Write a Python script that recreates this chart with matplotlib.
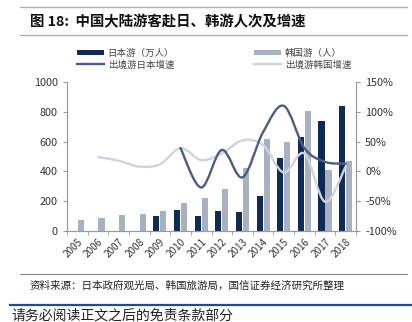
"""图 18：中国大陆游客赴日、韩游人次及增速"""

import matplotlib

matplotlib.use("Agg")

import matplotlib.pyplot as plt  # noqa: E402
import numpy as np  # noqa: E402
from matplotlib.lines import Line2D  # noqa: E402
from matplotlib.patches import PathPatch, Patch  # noqa: E402
from matplotlib.path import Path  # noqa: E402
from matplotlib.ticker import FuncFormatter  # noqa: E402

plt.rcParams["font.family"] = ["Noto Sans CJK SC", "DejaVu Sans"]

NAVY = "#102a58"
GREYBLUE = "#a7b1bf"
LINE_DARK = "#4b5d86"
LINE_LIGHT = "#cdd4dd"
SPINE = "#9a9a9a"
TEXT = "#333333"

years = ["2005", "2006", "2007", "2008", "2009", "2010", "2011",
         "2012", "2013", "2014", "2015", "2016", "2017", "2018"]
japan = [np.nan, np.nan, np.nan, np.nan, 100, 141, 103,
         136, 125, 237, 492, 633, 738, 841]
korea = [71, 85, 105, 116, 132, 185, 219,
         280, 425, 615, 595, 805, 409, 472]
japan_growth = [np.nan, np.nan, np.nan, np.nan, np.nan, 39, -27,
                36, -10, 66, 110, 39, 16, 13]
korea_growth = [np.nan, 24, 18, 8, 12, 39, 19,
                30, 52, 44, -2, 30, -51, 8]
legend_labels = ["日本游（万人）", "韩国游（人）", "出境游日本增速", "出境游韩国增速"]


def _smooth(ax, x, y, color, lw):
    """Excel 风格平滑曲线（Catmull-Rom 转 Bezier）。"""
    x = np.asarray(x, float)
    y = np.asarray(y, float) / 100.0
    ok = ~np.isnan(y)
    x, y = x[ok], y[ok]
    pts = np.column_stack([x, y])
    verts = [pts[0]]
    codes = [Path.MOVETO]
    for i in range(len(pts) - 1):
        p0 = pts[i - 1] if i > 0 else pts[i]
        p1, p2 = pts[i], pts[i + 1]
        p3 = pts[i + 2] if i + 2 < len(pts) else pts[i + 1]
        c1 = p1 + (p2 - p0) / 6.0
        c2 = p2 - (p3 - p1) / 6.0
        verts += [c1, c2, p2]
        codes += [Path.CURVE4] * 3
    ax.add_patch(PathPatch(Path(verts, codes), fill=False, edgecolor=color,
                           linewidth=lw, capstyle="round", zorder=3))


fig = plt.figure(figsize=(4.12, 3.22), dpi=100)
W, H = 412, 322


def hline(y, x0, x1, color, lw):
    fig.add_artist(Line2D([x0 / W, x1 / W], [1 - y / H, 1 - y / H],
                          color=color, linewidth=lw, transform=fig.transFigure))


hline(7.3, 20, 407, "#b0b0b0", 1.0)
hline(35, 20, 407, "#b0b0b0", 1.0)
hline(273.5, 20, 407, "#8a8a8a", 0.8)
hline(305, 10, 412, "#1f4e8c", 1.6)

fig.text(30 / W, 1 - 22 / H, "图 18:  中国大陆游客赴日、韩游人次及增速",
         fontsize=10.4, fontweight="bold", va="center", ha="left", color="#111111")
fig.text(30 / W, 1 - 285.5 / H, "资料来源：日本政府观光局、韩国旅游局，国信证券经济研究所整理",
         fontsize=7.6, va="center", ha="left", color="#222222")
fig.text(11 / W, 1 - 315.5 / H, "请务必阅读正文之后的免责条款部分",
         fontsize=10, va="center", ha="left", color="#222222")

ax = fig.add_axes([67 / W, 1 - 231 / H, (356 - 67) / W, (231 - 82) / H])
ax2 = ax.twinx()

x = np.arange(len(years))
ax.bar(x - 0.17, japan, width=0.3, color=NAVY, zorder=2)
ax.bar(x + 0.17, korea, width=0.3, color=GREYBLUE, zorder=2)
ax.set_xlim(-0.5, len(years) - 0.5)
ax.set_ylim(0, 1000)
ax.set_yticks(np.arange(0, 1001, 200))

_smooth(ax2, x, korea_growth, LINE_LIGHT, 1.7)
_smooth(ax2, x, japan_growth, LINE_DARK, 1.7)
ax2.set_ylim(-1.0, 1.5)
ax2.set_yticks(np.arange(-1.0, 1.51, 0.5))
ax2.yaxis.set_major_formatter(FuncFormatter(lambda v, _: f"{v * 100:.0f}%"))

ax.set_xticks(x)
ax.set_xticklabels(years, rotation=45, ha="right", rotation_mode="anchor")
ax.set_xticks(np.arange(-0.5, len(years)), minor=True)
ax.tick_params(axis="x", which="major", length=0, pad=4, labelsize=7.2, labelcolor=TEXT)
ax.tick_params(axis="x", which="minor", length=3, color=SPINE, direction="out")
ax.tick_params(axis="y", length=3, color=SPINE, labelsize=7.8, labelcolor=TEXT)
ax2.tick_params(axis="y", length=3, color=SPINE, labelsize=7.8, labelcolor=TEXT)

for a in (ax, ax2):
    a.spines["top"].set_visible(False)
    for s in ("left", "right", "bottom"):
        a.spines[s].set_color(SPINE)
        a.spines[s].set_linewidth(0.8)

handles = [
    Patch(facecolor=NAVY, edgecolor="none"),
    Line2D([], [], color=LINE_DARK, linewidth=1.7),
    Patch(facecolor=GREYBLUE, edgecolor="none"),
    Line2D([], [], color=LINE_LIGHT, linewidth=1.7),
]
labels = [legend_labels[0], legend_labels[2], legend_labels[1], legend_labels[3]]
fig.legend(handles, labels, ncol=2, frameon=False, fontsize=6.8,
           loc="center left", bbox_to_anchor=(68 / W, 1 - 59 / H),
           handlelength=2.9, handleheight=0.45, handletextpad=0.4,
           columnspacing=8.4, labelspacing=0.25, labelcolor="#444444")

fig.savefig("out.png", dpi=100)
